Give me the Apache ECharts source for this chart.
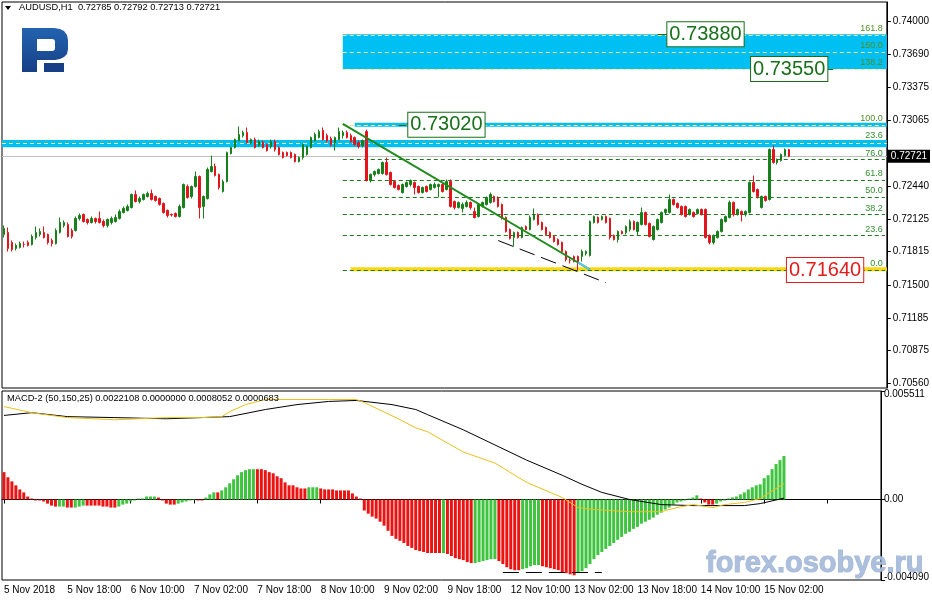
<!DOCTYPE html>
<html><head><meta charset="utf-8">
<script src="https://cdn.jsdelivr.net/npm/echarts@6/dist/echarts.min.js"></script>
<style>html,body{margin:0;padding:0;background:#fff}#c{width:932px;height:601px}</style>
</head><body><div id="c"></div>
<script>
const symbolName = 'AUDUSD,H1';
const timeLabels = ['5 Nov 2018','5 Nov 18:00','6 Nov 10:00','7 Nov 02:00','7 Nov 18:00','8 Nov 10:00','9 Nov 02:00','9 Nov 18:00','12 Nov 10:00','13 Nov 02:00','13 Nov 18:00','14 Nov 10:00','15 Nov 02:00'];
const labelEvery = 16;
const slotCount = 222;
// [open, close, low, high]
const candles = [
[0.71978,0.72035,0.71949,0.72063],[0.71997,0.71845,0.71816,0.72044],[0.71902,0.71835,0.71816,0.71921],[0.71845,0.71873,0.71826,0.71892],
[0.71854,0.71892,0.71845,0.71911],[0.71883,0.71883,0.71854,0.71911],[0.71902,0.71873,0.71864,0.71921],[0.71883,0.71959,0.71873,0.71978],
[0.71949,0.71997,0.71930,0.72054],[0.71978,0.72006,0.71959,0.72035],[0.71997,0.71949,0.71940,0.72054],[0.71978,0.71902,0.71883,0.71987],
[0.71921,0.71892,0.71864,0.71940],[0.71892,0.72016,0.71883,0.72035],[0.71997,0.72092,0.71987,0.72139],[0.72063,0.72092,0.72044,0.72111],
[0.72073,0.71959,0.71949,0.72092],[0.72016,0.71959,0.71940,0.72035],[0.72016,0.72130,0.72006,0.72149],[0.72130,0.72158,0.72111,0.72177],
[0.72168,0.72101,0.72092,0.72177],[0.72120,0.72092,0.72073,0.72130],[0.72092,0.72130,0.72082,0.72149],[0.72130,0.72101,0.72082,0.72139],
[0.72130,0.72092,0.72082,0.72196],[0.72101,0.72063,0.72044,0.72120],[0.72063,0.72120,0.72044,0.72130],[0.72092,0.72130,0.72073,0.72149],
[0.72101,0.72139,0.72092,0.72168],[0.72130,0.72196,0.72120,0.72215],[0.72187,0.72225,0.72177,0.72244],[0.72206,0.72244,0.72196,0.72263],
[0.72234,0.72358,0.72225,0.72367],[0.72358,0.72291,0.72282,0.72396],[0.72291,0.72320,0.72272,0.72339],[0.72310,0.72358,0.72301,0.72367],
[0.72339,0.72367,0.72329,0.72386],[0.72367,0.72310,0.72301,0.72405],[0.72339,0.72301,0.72291,0.72348],[0.72320,0.72263,0.72253,0.72329],
[0.72272,0.72187,0.72177,0.72282],[0.72206,0.72158,0.72139,0.72215],[0.72168,0.72163,0.72149,0.72177],[0.72177,0.72149,0.72139,0.72187],
[0.72149,0.72244,0.72139,0.72263],[0.72234,0.72453,0.72225,0.72462],[0.72434,0.72329,0.72320,0.72453],[0.72339,0.72434,0.72320,0.72443],
[0.72434,0.72529,0.72424,0.72576],[0.72529,0.72234,0.72130,0.72538],[0.72244,0.72339,0.72130,0.72348],[0.72320,0.72595,0.72310,0.72614],
[0.72576,0.72624,0.72567,0.72728],[0.72624,0.72538,0.72529,0.72652],[0.72548,0.72424,0.72405,0.72557],[0.72386,0.72481,0.72377,0.72500],
[0.72481,0.72757,0.72472,0.72766],[0.72747,0.72804,0.72738,0.72814],[0.72804,0.72880,0.72795,0.72890],[0.72871,0.72928,0.72861,0.73004],
[0.72918,0.72947,0.72899,0.72966],[0.72947,0.72852,0.72842,0.72994],[0.72852,0.72880,0.72833,0.72890],[0.72880,0.72804,0.72795,0.72899],
[0.72823,0.72861,0.72814,0.72880],[0.72852,0.72804,0.72795,0.72871],[0.72833,0.72776,0.72766,0.72842],[0.72814,0.72861,0.72795,0.72880],
[0.72861,0.72785,0.72766,0.72880],[0.72804,0.72738,0.72728,0.72814],[0.72757,0.72709,0.72700,0.72766],[0.72757,0.72728,0.72719,0.72766],
[0.72757,0.72709,0.72700,0.72766],[0.72738,0.72671,0.72662,0.72747],[0.72671,0.72709,0.72662,0.72719],[0.72709,0.72833,0.72690,0.72842],
[0.72738,0.72814,0.72728,0.72823],[0.72804,0.72899,0.72795,0.72909],[0.72871,0.72928,0.72861,0.72947],[0.72899,0.72956,0.72890,0.72975],
[0.72966,0.72880,0.72871,0.72994],[0.72918,0.72871,0.72852,0.72937],[0.72890,0.72833,0.72814,0.72909],[0.72852,0.72899,0.72776,0.72909],
[0.72880,0.72956,0.72871,0.72994],[0.72918,0.72947,0.72890,0.72966],[0.72947,0.72899,0.72890,0.72966],[0.72918,0.72861,0.72852,0.72937],
[0.72899,0.72833,0.72823,0.72909],[0.72852,0.72814,0.72795,0.72871],[0.72823,0.72871,0.72804,0.72880],[0.72956,0.72491,0.72481,0.72975],
[0.72491,0.72548,0.72472,0.72557],[0.72548,0.72576,0.72529,0.72586],[0.72557,0.72595,0.72548,0.72605],[0.72557,0.72662,0.72548,0.72671],
[0.72662,0.72548,0.72538,0.72709],[0.72567,0.72453,0.72443,0.72576],[0.72481,0.72424,0.72415,0.72491],[0.72443,0.72405,0.72396,0.72453],
[0.72377,0.72453,0.72367,0.72462],[0.72434,0.72472,0.72424,0.72481],[0.72453,0.72491,0.72434,0.72500],[0.72472,0.72424,0.72358,0.72481],
[0.72434,0.72377,0.72367,0.72443],[0.72377,0.72424,0.72367,0.72434],[0.72434,0.72386,0.72377,0.72443],[0.72405,0.72453,0.72396,0.72462],
[0.72424,0.72453,0.72415,0.72472],[0.72434,0.72453,0.72329,0.72462],[0.72453,0.72386,0.72377,0.72462],[0.72405,0.72481,0.72396,0.72500],
[0.72481,0.72244,0.72234,0.72500],[0.72291,0.72234,0.72215,0.72301],[0.72234,0.72282,0.72225,0.72291],[0.72225,0.72263,0.72187,0.72282],
[0.72244,0.72282,0.72234,0.72301],[0.72282,0.72234,0.72215,0.72291],[0.72196,0.72139,0.72130,0.72234],[0.72149,0.72263,0.72139,0.72272],
[0.72244,0.72282,0.72234,0.72291],[0.72263,0.72329,0.72253,0.72339],[0.72282,0.72358,0.72272,0.72377],[0.72339,0.72291,0.72282,0.72348],
[0.72329,0.72244,0.72234,0.72339],[0.72263,0.72130,0.72120,0.72272],[0.72139,0.72006,0.71997,0.72149],[0.72025,0.71940,0.71930,0.72035],
[0.71949,0.71997,0.71864,0.72006],[0.71997,0.71949,0.71940,0.72006],[0.71949,0.72044,0.71940,0.72054],[0.72054,0.72025,0.72016,0.72063],
[0.72025,0.72139,0.72016,0.72158],[0.72120,0.72168,0.72111,0.72225],[0.72168,0.72073,0.72063,0.72177],[0.72092,0.72025,0.72016,0.72101],
[0.72044,0.71978,0.71968,0.72054],[0.71997,0.71949,0.71940,0.72006],[0.71959,0.71911,0.71902,0.71968],[0.71930,0.71883,0.71873,0.71940],
[0.71902,0.71816,0.71807,0.71911],[0.71816,0.71740,0.71721,0.71826],[0.71731,0.71731,0.71702,0.71750],[0.71769,0.71721,0.71712,0.71778],
[0.71769,0.71712,0.71640,0.71778],[0.71769,0.71816,0.71721,0.71835],[0.71797,0.71816,0.71778,0.71826],[0.71778,0.72101,0.71769,0.72111],
[0.72092,0.72149,0.72082,0.72158],[0.72139,0.72092,0.72082,0.72149],[0.72120,0.72149,0.72111,0.72158],[0.72149,0.72092,0.72082,0.72158],
[0.72130,0.71949,0.71930,0.72139],[0.71968,0.71930,0.71921,0.71978],[0.71930,0.72006,0.71902,0.72016],[0.72006,0.71987,0.71978,0.72016],
[0.71997,0.72054,0.71978,0.72063],[0.72025,0.72101,0.72006,0.72120],[0.72101,0.72025,0.72016,0.72111],[0.72006,0.72092,0.71968,0.72101],
[0.72073,0.72187,0.72063,0.72234],[0.72187,0.72073,0.72063,0.72196],[0.72082,0.71959,0.71949,0.72092],[0.71930,0.72054,0.71921,0.72063],
[0.72025,0.72120,0.72016,0.72130],[0.72092,0.72187,0.72082,0.72196],[0.72187,0.72215,0.72168,0.72225],[0.72187,0.72310,0.72177,0.72358],
[0.72310,0.72263,0.72253,0.72320],[0.72272,0.72234,0.72225,0.72282],[0.72244,0.72168,0.72158,0.72253],[0.72244,0.72149,0.72139,0.72253],
[0.72168,0.72215,0.72158,0.72225],[0.72187,0.72149,0.72139,0.72196],[0.72177,0.72215,0.72168,0.72225],[0.72215,0.72168,0.72158,0.72225],
[0.72215,0.71949,0.71940,0.72225],[0.71968,0.71902,0.71883,0.71978],[0.71902,0.71968,0.71883,0.71978],[0.71949,0.72006,0.71940,0.72016],
[0.72006,0.72120,0.71997,0.72130],[0.72101,0.72149,0.72092,0.72158],[0.72139,0.72282,0.72130,0.72301],[0.72282,0.72168,0.72149,0.72291],
[0.72168,0.72215,0.72158,0.72225],[0.72196,0.72168,0.72101,0.72206],[0.72168,0.72196,0.72149,0.72206],[0.72187,0.72472,0.72177,0.72481],
[0.72472,0.72386,0.72377,0.72538],[0.72405,0.72339,0.72320,0.72415],[0.72234,0.72339,0.72225,0.72348],[0.72339,0.72301,0.72291,0.72348],
[0.72310,0.72785,0.72301,0.72795],[0.72785,0.72662,0.72652,0.72823],[0.72662,0.72690,0.72643,0.72700],[0.72681,0.72738,0.72671,0.72747],
[0.72728,0.72785,0.72719,0.72795],[0.72785,0.72721,0.72713,0.72792]
];
const priceTicks = [0.74, 0.7369, 0.73375, 0.73065, 0.7244, 0.72125, 0.71815, 0.715, 0.71185, 0.70875, 0.7056];
const priceMin = 0.70519, priceMax = 0.741872;
const lastPrice = 0.72721;
// Fibonacci retracement (anchors 0.71640 -> 0.73020)
const fibLowLevels = ['0.0','23.6','38.2','50.0','61.8','76.0'];
const fibLowPrices = [0.7164, 0.71966, 0.72167, 0.7233, 0.72493, 0.72689];
const fibHighLevels = ['100.0','138.2','150.0','161.8'];
const fibHighPrices = [0.7302, 0.73547, 0.7371, 0.73873];
const fibStartBar = 85;
const fibEndBar = 221;
const resistanceZone = [0.72806, 0.72875];
const resistanceMid = 0.72841;
const resistanceLabel = '23.6';
const targetZone = [0.7355, 0.7388];
const level100Zone = [0.73001, 0.73039];
const supportZone = [0.71629, 0.71667];
const priceTags = [
  {text:'0.73880', bar:176, price:0.7388, kind:'g'},
  {text:'0.73550', bar:197, price:0.7355, kind:'g'},
  {text:'0.73020', bar:111, price:0.7302, kind:'g'},
  {text:'0.71640', bar:206, price:0.7164, kind:'r'}
];
const tagConnectors = [[164,167,0.7388],[206,208,0.7355],[99,101,0.7302]];
const trendLine = [[85,0.7303],[147,0.71645]];
const trendTip = [[144,0.71712],[147,0.71645]];
const channelLine = [[124,0.7192],[151,0.7152]];

const macdHeader = 'MACD-2 (50,150,25) 0.0022108 0.0000000 0.0008052 0.0000683';
const macdHist = [
0.00139,0.00113,0.00092,0.00072,0.00051,0.00036,0.00015,0.00005,-0.00005,-0.00005,
-0.00010,-0.00021,-0.00031,-0.00036,-0.00036,-0.00036,-0.00041,-0.00041,-0.00041,-0.00036,
-0.00031,-0.00031,-0.00031,-0.00031,-0.00031,-0.00036,-0.00036,-0.00041,-0.00041,-0.00036,
-0.00026,-0.00021,-0.00010,-0.00005,0.00005,0.00005,0.00015,0.00015,0.00015,0.00010,
-0.00005,-0.00021,-0.00026,-0.00026,-0.00021,-0.00015,-0.00010,-0.00005,-0.00003,-0.00005,
-0.00005,0.00010,0.00026,0.00036,0.00036,0.00046,0.00062,0.00082,0.00103,0.00123,
0.00139,0.00149,0.00154,0.00154,0.00154,0.00154,0.00149,0.00139,0.00133,0.00118,
0.00108,0.00087,0.00072,0.00072,0.00062,0.00056,0.00056,0.00062,0.00062,0.00062,
0.00056,0.00051,0.00051,0.00051,0.00046,0.00046,0.00046,0.00046,0.00031,0.00015,
0.00005,-0.00056,-0.00072,-0.00087,-0.00097,-0.00113,-0.00133,-0.00159,-0.00185,-0.00200,
-0.00210,-0.00221,-0.00236,-0.00246,-0.00257,-0.00262,-0.00267,-0.00272,-0.00272,-0.00272,
-0.00272,-0.00272,-0.00277,-0.00287,-0.00298,-0.00303,-0.00308,-0.00318,-0.00323,-0.00323,
-0.00318,-0.00313,-0.00308,-0.00303,-0.00303,-0.00313,-0.00328,-0.00344,-0.00354,-0.00359,
-0.00359,-0.00354,-0.00349,-0.00339,-0.00333,-0.00333,-0.00339,-0.00344,-0.00349,-0.00354,
-0.00359,-0.00369,-0.00374,-0.00380,-0.00385,-0.00374,-0.00364,-0.00349,-0.00328,-0.00303,
-0.00282,-0.00267,-0.00251,-0.00236,-0.00221,-0.00205,-0.00190,-0.00174,-0.00164,-0.00149,
-0.00139,-0.00123,-0.00113,-0.00103,-0.00092,-0.00077,-0.00067,-0.00051,-0.00041,-0.00026,
-0.00015,-0.00010,-0.00005,0.00005,0.00010,0.00021,0.00005,-0.00015,-0.00026,-0.00026,
-0.00021,-0.00010,-0.00005,0.00005,0.00010,0.00015,0.00026,0.00036,0.00051,0.00062,
0.00072,0.00077,0.00108,0.00123,0.00154,0.00180,0.00200,0.0022108
];
const macdHistColor = ['RRRRRRRRRRRRRR','GG','RR','GGG','RRRRRRRR','GGGGGGGGGG','RRRRR','GGGGG','RR','GGG','R',
  'GGGGGGGGG','RRRRRRRRRRRRR','GGG','RRRRRRRRRRRRRRRRRRRRRRRRRRRRRRR','G','RRRRRRR','GGGGGG','RRRRRR','GGGGG',
  'RRRRRRRRR','GGGGGGGGGGGGGGGGGGGGGGGGGGGGGGG','RRRR','GGGGGGGGGGGGGGGGGG'].join('');
const macdMain = [[0,0.00427],[7,0.00441],[16,0.00421],[28,0.00416],[41,0.00410],[57,0.00421],[66,0.00457],[74,0.00482],[82,0.00498],[89,0.00503],[98,0.00482],[104,0.00457],[107,0.00431],[116,0.00354],[124,0.00277],[132,0.00200],[141,0.00123],[146,0.00077],[151,0.00036],[158,0.0],[166,-0.00026],[174,-0.00031],[187,-0.00031],[191,-0.00021],[197,0.0000683]];
const macdSignal = [[0,0.00472],[7,0.00441],[16,0.00416],[28,0.00405],[41,0.00416],[50,0.00416],[55,0.00421],[57,0.00446],[61,0.00482],[66,0.00508],[82,0.00508],[89,0.00508],[91,0.00492],[99,0.00416],[104,0.00364],[107,0.00344],[116,0.00241],[124,0.00185],[132,0.00087],[141,0.00010],[145,-0.00041],[149,-0.00051],[158,-0.00062],[166,-0.00062],[170,-0.00041],[174,-0.00026],[179,-0.00041],[182,-0.00026],[187,-0.00015],[191,0.00005],[197,0.0008052]];
const macdTicks = [0.005511, 0, -0.00409];
const macdTickLabels = ['0.005511','0.00','-0.004090'];
const macdMin = -0.00409, macdMax = 0.005511;
const macdDashLevel = -0.00372;
const macdDashBars = [126, 151];
const watermark = 'forex.osobye.ru';

const GREEN = '#17801a', RED = '#e3141c', HGREEN = '#3fc43f', HRED = '#ec1313';
const FIBGREEN = '#1f7a1f', CYAN = '#00bff3', DASHY = '#f0e68c';
const FONT = '"Liberation Sans", Arial, sans-serif';

const cats = Array.from({length: slotCount}, (_, i) => String(i));
const last = candles[candles.length - 1];

const chart = echarts.init(document.getElementById('c'), null, {renderer: 'canvas'});

const bgLines = [];
fibLowPrices.forEach((p, k) => {
  bgLines.push([{coord: [fibStartBar, p], lineStyle: {color: FIBGREEN, type: [4, 3], width: 1},
    label: {show: true, position: 'insideEndTop', formatter: fibLowLevels[k], color: '#2f8f2f', fontSize: 9, distance: 2, fontFamily: FONT}},
    {coord: [fibEndBar, p]}]);
});
fibHighPrices.forEach((p, k) => {
  bgLines.push([{coord: [fibStartBar, p], lineStyle: {color: DASHY, type: [4, 3], width: 1},
    label: {show: true, position: 'insideEndTop', formatter: fibHighLevels[k], color: '#4e8f23', fontSize: 9, distance: 2, fontFamily: FONT}},
    {coord: [fibEndBar, p]}]);
});
bgLines.push([{coord: [-Infinity, resistanceMid], lineStyle: {color: DASHY, type: [4, 3], width: 1},
  label: {show: true, position: 'insideEndTop', formatter: resistanceLabel, color: '#2f8f2f', fontSize: 9, distance: 4, fontFamily: FONT}},
  {coord: [Infinity, resistanceMid]}]);
bgLines.push({yAxis: lastPrice, lineStyle: {color: '#c0c0c0', type: 'solid', width: 1},
  label: {show: true, position: 'end', formatter: last[1].toFixed(5), backgroundColor: '#000', color: '#fff',
    padding: [2, 3, 1, 3], fontSize: 10, distance: 1, fontFamily: FONT}});

const fgLines = [
  [{coord: trendLine[0], lineStyle: {color: '#1d8c1d', width: 2, type: 'solid'}}, {coord: trendLine[1]}],
  [{coord: trendTip[0], lineStyle: {color: '#56c8ea', width: 2, type: 'solid'}}, {coord: trendTip[1]}],
  [{coord: channelLine[0], lineStyle: {color: '#000', width: 1, type: [16, 7]}}, {coord: channelLine[1]}]
];
tagConnectors.forEach(c => fgLines.push([{coord: [c[0], c[2]], lineStyle: {color: '#1a6e1a', width: 1, type: 'solid'}}, {coord: [c[1], c[2]]}]));

const tagPoints = priceTags.map(t => ({
  coord: [t.bar, t.price], symbolSize: 0,
  label: {show: true, position: 'inside', formatter: t.text, fontSize: 20, fontFamily: FONT,
    color: t.kind === 'g' ? '#17701a' : '#e31b1b', backgroundColor: '#fff',
    borderColor: t.kind === 'g' ? '#17701a' : '#e31b1b', borderWidth: 1, padding: [3, 2, 1, 2]}
}));

const histData = macdHist.map((v, i) => ({value: v, itemStyle: {color: macdHistColor[i] === 'R' ? HRED : HGREEN}}));

const logoGrad = {type: 'linear', x: 0, y: 0, x2: 0, y2: 1, colorStops: [{offset: 0, color: '#2363b0'}, {offset: 1, color: '#173f85'}]};

const option = {
  animation: false,
  backgroundColor: '#fff',
  textStyle: {fontFamily: FONT},
  grid: [
    {left: 2, top: 2, width: 887, height: 386, show: true, borderColor: '#000', borderWidth: 1, backgroundColor: '#fff'},
    {left: 2, top: 391, width: 887, height: 189, show: true, borderColor: '#000', borderWidth: 1, backgroundColor: '#fff'}
  ],
  xAxis: [
    {type: 'category', gridIndex: 0, data: cats, boundaryGap: true, axisLine: {show: false}, axisTick: {show: false}, axisLabel: {show: false}, splitLine: {show: false}},
    {type: 'category', gridIndex: 1, data: cats, boundaryGap: true,
      axisLine: {show: true, lineStyle: {color: '#000'}},
      axisTick: {show: true, alignWithLabel: true, interval: labelEvery - 1, length: 4, lineStyle: {color: '#000'}},
      axisLabel: {interval: labelEvery - 1, align: 'left', fontSize: 10, color: '#000', margin: 5, fontFamily: FONT,
        formatter: (v) => { const i = Number(v); return i % labelEvery === 0 && timeLabels[i / labelEvery] ? timeLabels[i / labelEvery] : ''; }},
      splitLine: {show: false}}
  ],
  yAxis: [
    {type: 'value', gridIndex: 0, position: 'right', min: priceMin, max: priceMax, scale: true,
      axisLine: {show: true, lineStyle: {color: '#000'}},
      axisTick: {show: true, length: 4, customValues: priceTicks, lineStyle: {color: '#000'}},
      axisLabel: {customValues: priceTicks, formatter: v => v.toFixed(5), fontSize: 10, color: '#000', margin: 6, fontFamily: FONT},
      splitLine: {show: false}},
    {type: 'value', gridIndex: 1, position: 'right', min: macdMin, max: macdMax,
      axisLine: {show: true, lineStyle: {color: '#000'}},
      axisTick: {show: true, length: 4, customValues: macdTicks, lineStyle: {color: '#000'}},
      axisLabel: {customValues: macdTicks, fontSize: 10, color: '#000', margin: 3, fontFamily: FONT,
        formatter: v => { const k = macdTicks.findIndex(t => Math.abs(t - v) < 1e-7); const s = k >= 0 ? macdTickLabels[k] : '';
          return k === 0 ? '{t|' + s + '}' : (k === 2 ? '{b|' + s + '}' : s); },
        rich: {t: {padding: [6, 0, 0, 0], fontSize: 10, color: '#000'}, b: {padding: [0, 0, 6, 0], fontSize: 10, color: '#000'}}},
      splitLine: {show: false}}
  ],
  series: [
    {type: 'line', name: 'zones', xAxisIndex: 0, yAxisIndex: 0, data: [], z: 1, silent: true,
      markArea: {silent: true, z: 1, data: [
        [{xAxis: fibStartBar, yAxis: targetZone[1], itemStyle: {color: CYAN}}, {yAxis: targetZone[0]}],
        [{xAxis: fibStartBar + 3, yAxis: level100Zone[1], itemStyle: {color: CYAN}}, {yAxis: level100Zone[0]}],
        [{yAxis: resistanceZone[1], itemStyle: {color: CYAN}}, {yAxis: resistanceZone[0]}],
        [{xAxis: fibStartBar + 2, yAxis: supportZone[1], itemStyle: {color: '#f8d714'}}, {yAxis: supportZone[0]}]
      ]},
      markLine: {silent: true, z: 1, precision: 6, symbol: ['none', 'none'], data: bgLines}},
    {type: 'candlestick', name: 'AUDUSD', xAxisIndex: 0, yAxisIndex: 0, data: candles, barWidth: 2, z: 3,
      itemStyle: {color: GREEN, color0: RED, borderColor: GREEN, borderColor0: RED, borderWidth: 1}},
    {type: 'line', name: 'drawings', xAxisIndex: 0, yAxisIndex: 0, data: [], z: 5, silent: true,
      markLine: {silent: true, z: 5, precision: 6, symbol: ['none', 'none'], label: {show: false}, data: fgLines},
      markPoint: {silent: true, z: 6, symbol: 'rect', data: tagPoints}},
    {type: 'bar', name: 'hist', xAxisIndex: 1, yAxisIndex: 1, data: histData, barWidth: 3, z: 2,
      markLine: {silent: true, precision: 6, symbol: ['none', 'none'], label: {show: false},
        data: [[{coord: [macdDashBars[0], macdDashLevel], lineStyle: {color: '#000', type: [16, 7], width: 1}}, {coord: [macdDashBars[1], macdDashLevel]}]]}},
    {type: 'line', name: 'main', xAxisIndex: 1, yAxisIndex: 1, data: macdMain, showSymbol: false, smooth: false, z: 3,
      lineStyle: {color: '#000', width: 1}},
    {type: 'line', name: 'signal', xAxisIndex: 1, yAxisIndex: 1, data: macdSignal, showSymbol: false, smooth: false, z: 4,
      lineStyle: {color: '#e9c21a', width: 1}}
  ],
  graphic: [
    {type: 'polygon', shape: {points: [[5, 6], [11, 6], [8, 10]]}, style: {fill: '#000'}, z: 100},
    {type: 'text', x: 19, y: 3, z: 100, style: {text: symbolName + '  ' + [last[0], last[3], last[2], last[1]].map(v => v.toFixed(5)).join(' '), font: '9.3px ' + FONT, fill: '#000'}},
    {type: 'text', x: 7, y: 394, z: 100, style: {text: macdHeader, font: '9.3px ' + FONT, fill: '#000'}},
    {type: 'polygon', z: 100, shape: {points: [[22,28],[54,28],[60,29],[64,31],[67,35],[68,40],[68,49],[67,54],[64,57],[60,59],[55,60],[37,60],[37,72],[22,72]]}, style: {fill: logoGrad}},
    {type: 'rect', z: 101, shape: {x: 37, y: 39, width: 18, height: 12, r: [0, 3, 3, 0]}, style: {fill: '#fff'}},
    {type: 'rect', z: 101, shape: {x: 44, y: 63, width: 20, height: 9}, style: {fill: '#173f85'}},
    {type: 'text', x: 706, y: 549, z: 100, style: {text: watermark, font: 'bold 29px ' + FONT, fill: 'rgba(168,188,218,0.95)', stroke: 'rgba(110,140,190,0.6)', lineWidth: 1}}
  ]
};
chart.setOption(option);
</script>
</body></html>
